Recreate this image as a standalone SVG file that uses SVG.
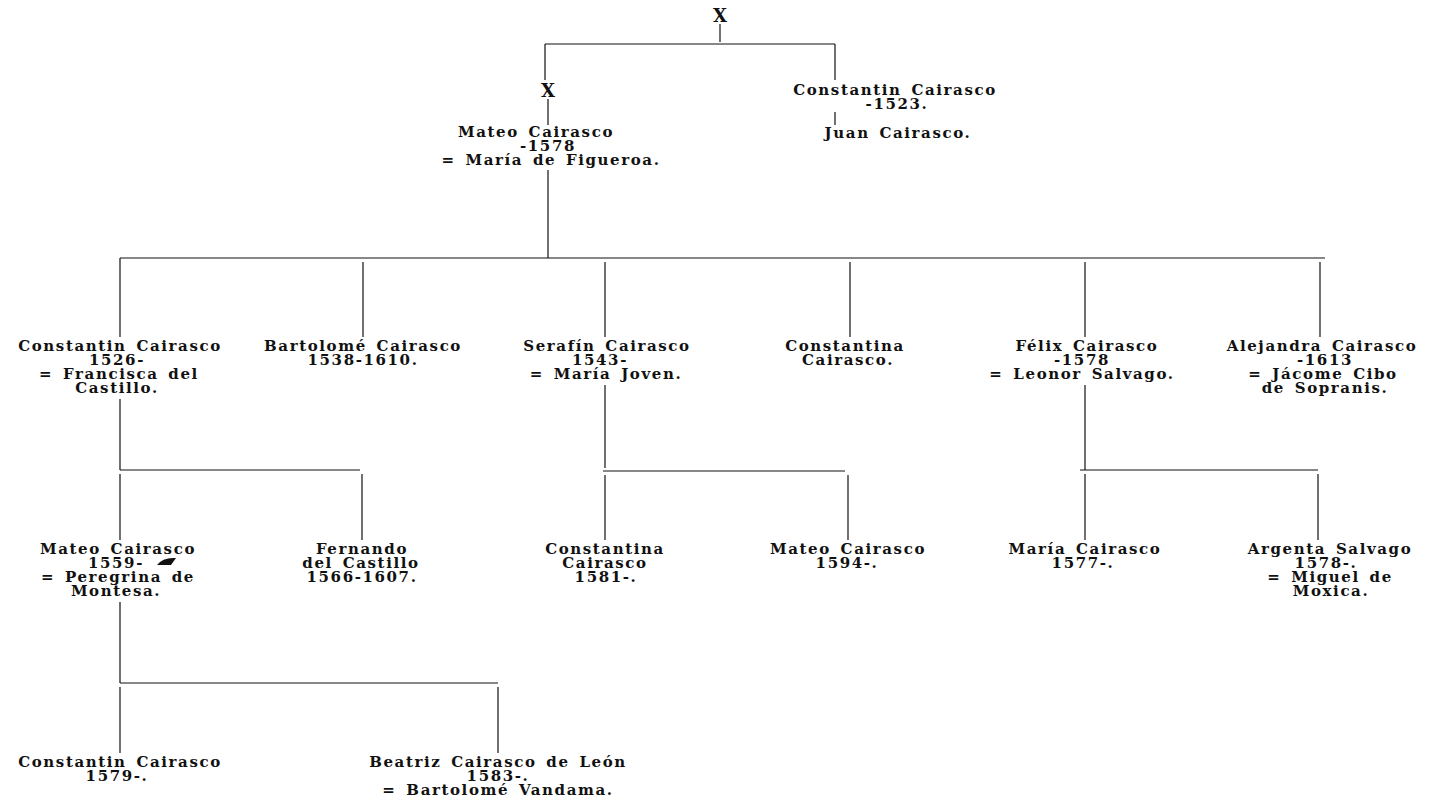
<svg xmlns="http://www.w3.org/2000/svg" width="1431" height="810" viewBox="0 0 1431 810">
<style>
  .t { font-family: "DejaVu Serif", "Liberation Serif", serif; font-weight: bold; font-size: 15px; letter-spacing: 1.6px; word-spacing: 3px; text-anchor: middle; fill: #111; }
  .x { font-size: 18px; letter-spacing: 0; }
  .c line { stroke: #111; stroke-width: 1.2; }
</style>
<rect width="1431" height="810" fill="#fff"/>
<g id="connectors" class="c">
  <line x1="720" y1="24" x2="720" y2="42"/>
  <line x1="545" y1="44" x2="835" y2="44"/>
  <line x1="545" y1="44" x2="545" y2="80"/>
  <line x1="835" y1="44" x2="835" y2="80"/>
  <line x1="548" y1="99" x2="548" y2="125"/>
  <line x1="835" y1="112" x2="835" y2="125"/>
  <line x1="548" y1="170" x2="548" y2="258"/>
  <line x1="120" y1="258" x2="1325" y2="258"/>
  <line x1="120" y1="258" x2="120" y2="337"/>
  <line x1="363" y1="262" x2="363" y2="337"/>
  <line x1="605" y1="262" x2="605" y2="337"/>
  <line x1="850" y1="262" x2="850" y2="337"/>
  <line x1="1085" y1="262" x2="1085" y2="337"/>
  <line x1="1320" y1="262" x2="1320" y2="337"/>
  <line x1="120" y1="399" x2="120" y2="470"/>
  <line x1="120" y1="470" x2="360" y2="470"/>
  <line x1="120" y1="474" x2="120" y2="540"/>
  <line x1="362" y1="474" x2="362" y2="540"/>
  <line x1="605" y1="385" x2="605" y2="468"/>
  <line x1="603" y1="471" x2="845" y2="471"/>
  <line x1="605" y1="475" x2="605" y2="540"/>
  <line x1="848" y1="475" x2="848" y2="540"/>
  <line x1="1085" y1="385" x2="1085" y2="470"/>
  <line x1="1080" y1="470" x2="1318" y2="470"/>
  <line x1="1085" y1="474" x2="1085" y2="540"/>
  <line x1="1318" y1="474" x2="1318" y2="540"/>
  <line x1="120" y1="602" x2="120" y2="683"/>
  <line x1="120" y1="683" x2="498" y2="683"/>
  <line x1="120" y1="687" x2="120" y2="753"/>
  <line x1="498" y1="687" x2="498" y2="753"/>
</g>
<g id="n-x-top"><text class="t x" x="720" y="22">X</text></g>
<g id="n-x"><text class="t x" x="548" y="97">X</text></g>
<g id="n-constantin-1523">
  <text class="t" x="895" y="95">Constantin Cairasco</text>
  <text class="t" x="897" y="109">-1523.</text>
</g>
<g id="n-juan"><text class="t" x="898" y="138">Juan Cairasco.</text></g>
<g id="n-mateo-1578">
  <text class="t" x="536" y="137">Mateo Cairasco</text>
  <text class="t" x="548" y="151">-1578</text>
  <text class="t" x="551" y="165">= María de Figueroa.</text>
</g>
<g id="n-constantin-1526">
  <text class="t" x="120" y="351">Constantin Cairasco</text>
  <text class="t" x="117" y="365">1526-</text>
  <text class="t" x="119" y="379">= Francisca del</text>
  <text class="t" x="117" y="393">Castillo.</text>
</g>
<g id="n-bartolome">
  <text class="t" x="363" y="351">Bartolomé Cairasco</text>
  <text class="t" x="363" y="365">1538-1610.</text>
</g>
<g id="n-serafin">
  <text class="t" x="607" y="351">Serafín Cairasco</text>
  <text class="t" x="600" y="365">1543-</text>
  <text class="t" x="606" y="379">= María Joven.</text>
</g>
<g id="n-constantina">
  <text class="t" x="845" y="351">Constantina</text>
  <text class="t" x="848" y="365">Cairasco.</text>
</g>
<g id="n-felix">
  <text class="t" x="1087" y="351">Félix Cairasco</text>
  <text class="t" x="1082" y="365">-1578</text>
  <text class="t" x="1082" y="379">= Leonor Salvago.</text>
</g>
<g id="n-alejandra">
  <text class="t" x="1322" y="351">Alejandra Cairasco</text>
  <text class="t" x="1325" y="365">-1613</text>
  <text class="t" x="1323" y="379">= Jácome Cibo</text>
  <text class="t" x="1325" y="393">de Sopranis.</text>
</g>
<g id="n-mateo-1559">
  <text class="t" x="118" y="554">Mateo Cairasco</text>
  <text class="t" x="116" y="568">1559-</text>
  <path d="M157 565 Q163 557 176 558 L171 565 Z" fill="#111"/>
  <text class="t" x="118" y="582">= Peregrina de</text>
  <text class="t" x="116" y="596">Montesa.</text>
</g>
<g id="n-fernando">
  <text class="t" x="362" y="554">Fernando</text>
  <text class="t" x="361" y="568">del Castillo</text>
  <text class="t" x="362" y="582">1566-1607.</text>
</g>
<g id="n-constantina-1581">
  <text class="t" x="605" y="554">Constantina</text>
  <text class="t" x="605" y="568">Cairasco</text>
  <text class="t" x="606" y="582">1581-.</text>
</g>
<g id="n-mateo-1594">
  <text class="t" x="848" y="554">Mateo Cairasco</text>
  <text class="t" x="847" y="568">1594-.</text>
</g>
<g id="n-maria">
  <text class="t" x="1085" y="554">María Cairasco</text>
  <text class="t" x="1083" y="568">1577-.</text>
</g>
<g id="n-argenta">
  <text class="t" x="1330" y="554">Argenta Salvago</text>
  <text class="t" x="1326" y="568">1578-.</text>
  <text class="t" x="1330" y="582">= Miguel de</text>
  <text class="t" x="1331" y="596">Moxica.</text>
</g>
<g id="n-constantin-1579">
  <text class="t" x="120" y="767">Constantin Cairasco</text>
  <text class="t" x="117" y="781">1579-.</text>
</g>
<g id="n-beatriz">
  <text class="t" x="498" y="767">Beatriz Cairasco de León</text>
  <text class="t" x="498" y="781">1583-.</text>
  <text class="t" x="498" y="795">= Bartolomé Vandama.</text>
</g>
</svg>
